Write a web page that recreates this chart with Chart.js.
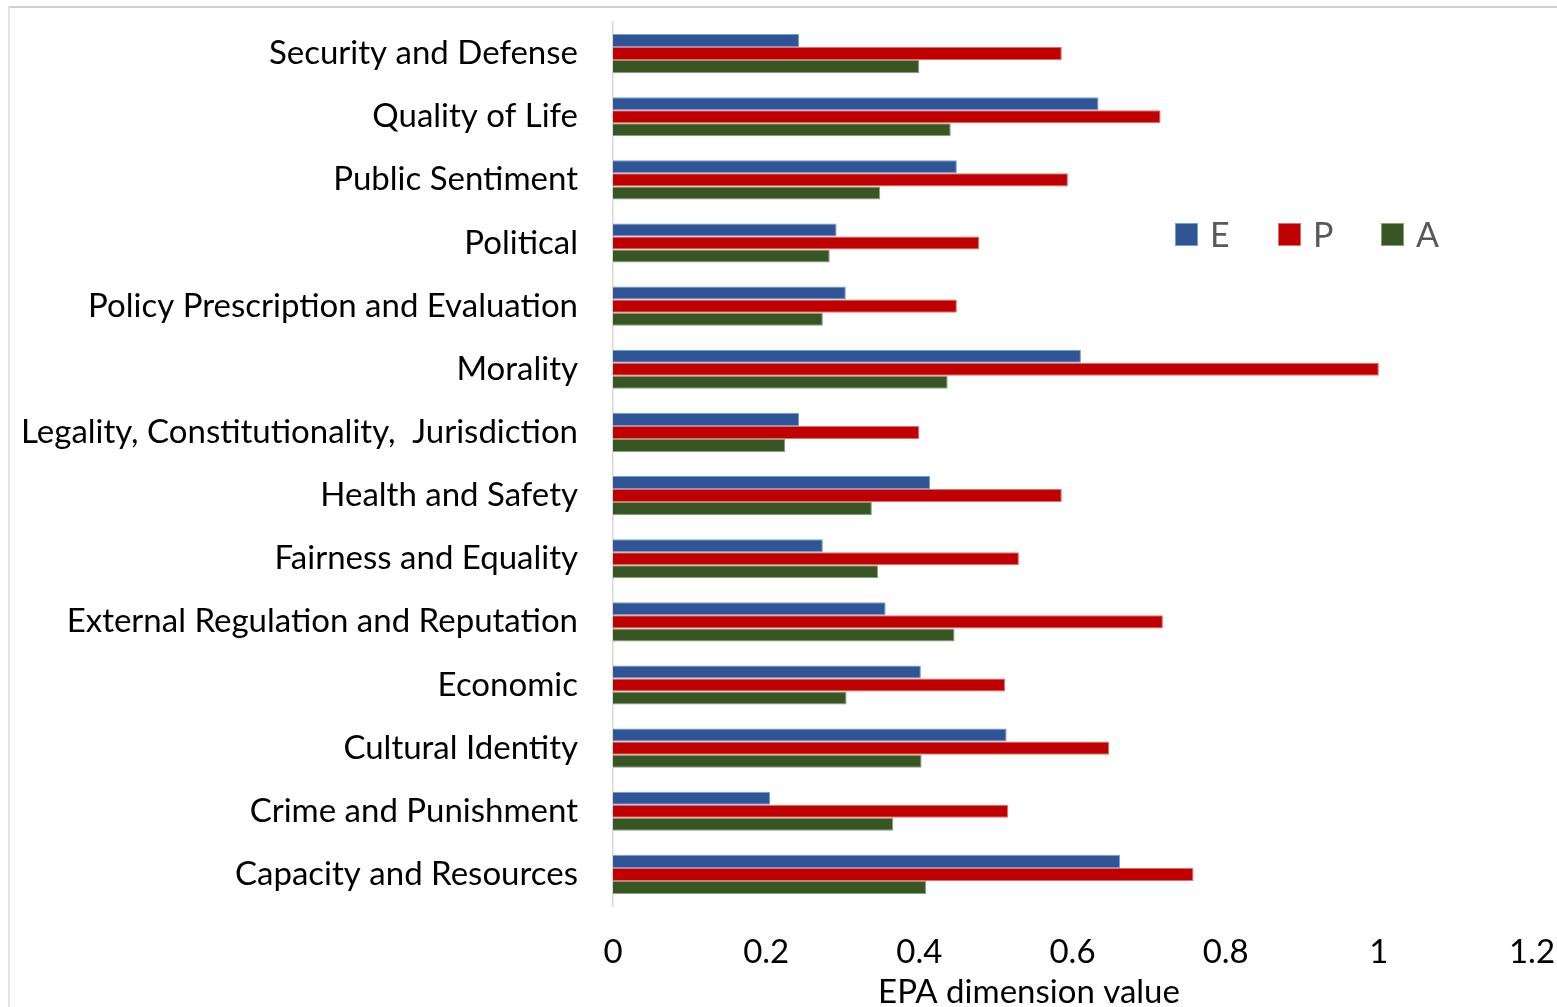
<!DOCTYPE html>
<html>
<head>
<meta charset="utf-8">
<script src="https://cdn.jsdelivr.net/npm/chart.js@4.4.1/dist/chart.umd.min.js"></script>
<style>
  html, body { margin: 0; padding: 0; background: #fff; overflow: hidden; }
  #frame {
    position: absolute; left: 8px; top: 6px; width: 1600px; height: 1100px;
    border-top: 2px solid #d0d0d0; border-left: 2px solid #e2e2e2;
  }
  #wrap { position: absolute; left: 0; top: 0; width: 1557px; height: 1007px; }
</style>
</head>
<body>
<div id="frame"></div>
<div id="wrap"><canvas id="epaChart" width="1557" height="1007"></canvas></div>
<script>
// categories, top to bottom as in the figure
const categories = [
  "Security and Defense",
  "Quality of Life",
  "Public Sentiment",
  "Political",
  "Policy Prescription and Evaluation",
  "Morality",
  "Legality, Constitutionality,  Jurisdiction",
  "Health and Safety",
  "Fairness and Equality",
  "External Regulation and Reputation",
  "Economic",
  "Cultural Identity",
  "Crime and Punishment",
  "Capacity and Resources",
];

const valuesE = [0.243, 0.634, 0.449, 0.292, 0.304, 0.611, 0.243, 0.414, 0.274, 0.356, 0.402, 0.514, 0.205, 0.662];
const valuesP = [0.586, 0.715, 0.594, 0.478, 0.449, 1.0, 0.4, 0.586, 0.53, 0.718, 0.512, 0.648, 0.516, 0.758];
const valuesA = [0.4, 0.441, 0.349, 0.283, 0.274, 0.437, 0.225, 0.338, 0.346, 0.446, 0.305, 0.403, 0.366, 0.409];

const seriesNames = ["E", "P", "A"];
const xTicks = [0, 0.2, 0.4, 0.6, 0.8, 1, 1.2];
const xTitle = "EPA dimension value";

const FONT = "Lato, 'Open Sans', sans-serif";

// legend inside the plot and the x title (Excel centres it on the whole chart, not the plot)
const overlayPlugin = {
  id: "overlay",
  afterDraw(chart) {
    const ctx = chart.ctx;
    const items = chart.data.datasets;
    const startX = 1175;
    const y = 235;
    ctx.save();
    ctx.font = "34px " + FONT;
    ctx.textBaseline = "middle";
    items.forEach((ds, i) => {
      const x = startX + i * 103;
      ctx.fillStyle = ds.backgroundColor;
      ctx.fillRect(x, y - 12, 23, 23);
      ctx.strokeStyle = ds.borderColor;
      ctx.lineWidth = 1;
      ctx.strokeRect(x + 0.5, y - 11.5, 22, 22);
      ctx.fillStyle = "#595959";
      ctx.fillText(ds.label, x + 35, y + 1);
    });

    ctx.font = "33px " + FONT;
    ctx.fillStyle = "#000";
    ctx.textAlign = "center";
    ctx.fillText(xTitle, 1029, 992);
    ctx.restore();
  },
};

const ctx = document.getElementById("epaChart").getContext("2d");
new Chart(ctx, {
  type: "bar",
  data: {
    labels: categories,
    datasets: [
      { label: seriesNames[0], data: valuesE, backgroundColor: "#2F5597", borderColor: "#6FA0D8", borderWidth: 1 },
      { label: seriesNames[1], data: valuesP, backgroundColor: "#C00000", borderColor: "#E07070", borderWidth: 1 },
      { label: seriesNames[2], data: valuesA, backgroundColor: "#375623", borderColor: "#8AA07A", borderWidth: 1 },
    ],
  },
  options: {
    indexAxis: "y",
    responsive: false,
    animation: false,
    layout: { padding: { top: 22, right: 25, left: 0, bottom: 0 } },
    datasets: {
      bar: { barPercentage: 1, categoryPercentage: 0.62 },
    },
    plugins: {
      legend: { display: false },
      tooltip: { enabled: false },
    },
    scales: {
      x: {
        min: 0,
        max: 1.2,
        afterBuildTicks(scale) {
          scale.ticks = xTicks.map((v) => ({ value: v }));
        },
        afterFit(scale) {
          scale.height = 101;
          scale.paddingLeft = 0;
          scale.paddingRight = 0;
        },
        grid: { display: false, drawTicks: false },
        border: { display: false },
        ticks: {
          padding: 27,
          color: "#000",
          font: { family: FONT, size: 33 },
          maxRotation: 0,
          autoSkip: false,
          callback: (v) => String(+v.toFixed(1)),
        },
        title: { display: false },
      },
      y: {
        afterFit(scale) {
          scale.width = 613;
          scale.paddingTop = 0;
          scale.paddingBottom = 0;
        },
        grid: { display: false, drawTicks: false },
        border: { display: true, color: "#d9d9d9", width: 1.5 },
        ticks: {
          padding: 35,
          color: "#000",
          font: { family: FONT, size: 33 },
          autoSkip: false,
        },
      },
    },
  },
  plugins: [overlayPlugin],
});
</script>
</body>
</html>
